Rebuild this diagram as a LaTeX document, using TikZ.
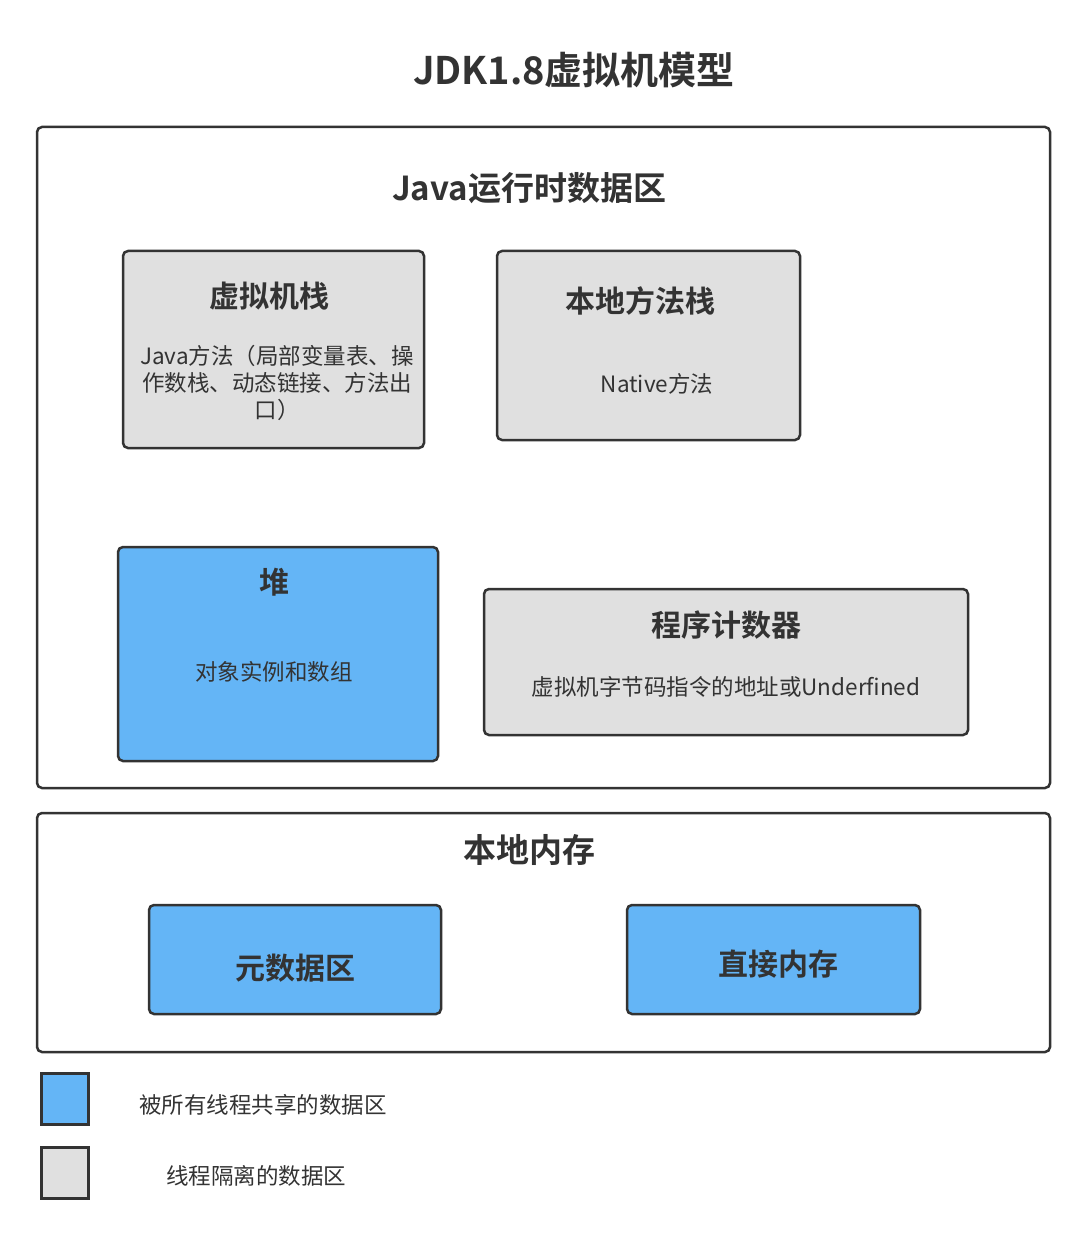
\documentclass[tikz,border=0pt]{standalone}
\usepackage{fontspec}
\setmainfont{Noto Sans CJK SC}[BoldFont={Noto Sans CJK SC Bold}]
\definecolor{txt}{HTML}{333333}
\definecolor{edge}{HTML}{333333}
\definecolor{grayfill}{HTML}{E0E0E0}
\definecolor{bluefill}{HTML}{64B5F6}
\begin{document}
\begin{tikzpicture}[x=1pt,y=-1pt,
  frame/.style={draw=edge,line width=2.5pt,rounded corners=5pt,fill=white},
  graybox/.style={draw=edge,line width=2.5pt,rounded corners=5pt,fill=grayfill},
  bluebox/.style={draw=edge,line width=2.5pt,rounded corners=5pt,fill=bluefill},
  legbox/.style={draw=edge,line width=3pt,minimum width=47pt,minimum height=51pt,inner sep=0pt},
  bigtitle/.style={font=\fontsize{38}{42}\selectfont\bfseries,text=txt,inner sep=0pt},
  sectitle/.style={font=\fontsize{33}{37}\selectfont\bfseries,text=txt,inner sep=0pt},
  title/.style={font=\fontsize{30}{34}\selectfont\bfseries,text=txt,inner sep=0pt},
  body/.style={font=\fontsize{22.5}{27}\selectfont,text=txt,inner sep=0pt,align=center}]
\useasboundingbox[fill=white] (0,0) rectangle (1087,1241);

\node[bigtitle] (t) at (574,70) {JDK1.8虚拟机模型};

% runtime data area
\draw[frame] (37,127) rectangle (1050,788);
\node[sectitle] (rt) at (529,188) {Java运行时数据区};

\draw[graybox] (123,251) rectangle (424,448);
\node[title] (vs) at (269,296) {虚拟机栈};
\node[body] (vsb) at (277,383) {Java方法（局部变量表、操\\作数栈、动态链接、方法出\\口）};

\draw[graybox] (497,251) rectangle (800,440);
\node[title] (ns) at (640,301) {本地方法栈};
\node[body] (nsb) at (657,384) {Native方法};

\draw[bluebox] (118,547) rectangle (438,761);
\node[title] (heap) at (274,582) {堆};
\node[body] (heapb) at (274,672) {对象实例和数组};

\draw[graybox] (484,589) rectangle (968,735);
\node[title] (pc) at (726,625) {程序计数器};
\node[body] (pcb) at (726,687) {虚拟机字节码指令的地址或Underfined};

% native memory
\draw[frame] (37,813) rectangle (1050,1052);
\node[sectitle] (nm) at (529,850) {本地内存};

\draw[bluebox] (149,905) rectangle (441,1014);
\node[title] (meta) at (295,968) {元数据区};

\draw[bluebox] (627,905) rectangle (920,1014);
\node[title] (dm) at (778,964) {直接内存};

% legend
\node[legbox,fill=bluefill] (lb) at (65,1099) {};
\node[body,anchor=west] (lbt) at (139,1105) {被所有线程共享的数据区};
\node[legbox,fill=grayfill] (lg) at (65,1173) {};
\node[body,anchor=west] (lgt) at (166,1176) {线程隔离的数据区};
\end{tikzpicture}
\end{document}
